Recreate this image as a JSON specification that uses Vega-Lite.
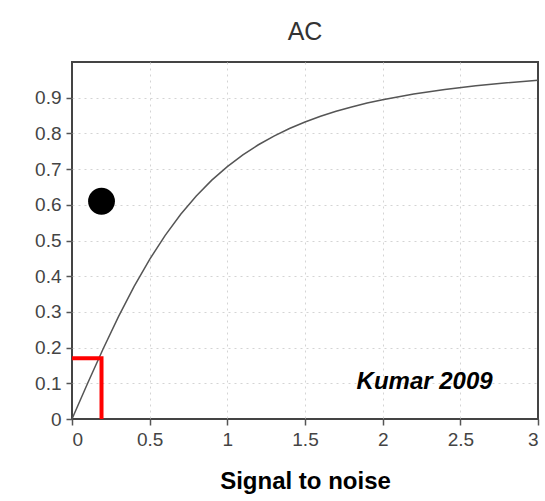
{
  "$schema": "https://vega.github.io/schema/vega-lite/v6.json",
  "autosize": {"type": "none"},
  "padding": {"left": 72, "top": 62, "right": 7, "bottom": 82},
  "width": 466,
  "height": 357,
  "background": "white",
  "title": {"text": "AC", "fontSize": 25, "font": "Liberation Sans", "fontWeight": "normal", "color": "#333", "baseline": "alphabetic", "offset": -3, "anchor": "middle"},
  "config": {
    "view": {"stroke": "#444", "strokeWidth": 2},
    "axis": {
      "domain": false, "grid": true, "gridColor": "#d4d4d4", "gridDash": [2, 4], "gridWidth": 1,
      "tickColor": "#555", "tickSize": 6, "tickWidth": 1.5,
      "labelFont": "Liberation Sans", "labelFontSize": 19, "labelColor": "#444", "labelPadding": 5, "labelOverlap": false
    }
  },
  "datasets": {
    "curve": [
      {"snr": 0, "ac": 0}, {"snr": 0.1, "ac": 0.0995}, {"snr": 0.2, "ac": 0.1961}, {"snr": 0.3, "ac": 0.2873},
      {"snr": 0.4, "ac": 0.3714}, {"snr": 0.5, "ac": 0.4472}, {"snr": 0.6, "ac": 0.5145}, {"snr": 0.7, "ac": 0.5735},
      {"snr": 0.8, "ac": 0.6247}, {"snr": 0.9, "ac": 0.669}, {"snr": 1.0, "ac": 0.7071}, {"snr": 1.1, "ac": 0.7399},
      {"snr": 1.2, "ac": 0.7682}, {"snr": 1.3, "ac": 0.7926}, {"snr": 1.4, "ac": 0.8137}, {"snr": 1.5, "ac": 0.8321},
      {"snr": 1.6, "ac": 0.848}, {"snr": 1.7, "ac": 0.8619}, {"snr": 1.8, "ac": 0.8742}, {"snr": 1.9, "ac": 0.8849},
      {"snr": 2.0, "ac": 0.8944}, {"snr": 2.2, "ac": 0.9104}, {"snr": 2.4, "ac": 0.9231}, {"snr": 2.6, "ac": 0.9333},
      {"snr": 2.8, "ac": 0.9417}, {"snr": 3.0, "ac": 0.9487}
    ],
    "bracket": [
      {"snr": 0, "ac": 0.17, "o": 0}, {"snr": 0.19, "ac": 0.17, "o": 1}, {"snr": 0.19, "ac": 0, "o": 2}
    ],
    "dot": [{"snr": 0.19, "ac": 0.61}],
    "label": [{"snr": 2.27, "ac": 0.103, "t": "Kumar 2009"}]
  },
  "encoding": {
    "x": {"field": "snr", "type": "quantitative", "scale": {"domain": [0, 3], "nice": false, "zero": false},
          "axis": {"values": [0, 0.5, 1, 1.5, 2, 2.5, 3], "format": ".2~f", "title": "Signal to noise",
                   "gridOpacity": {"condition": {"test": "datum.value <= 0 || datum.value >= 3", "value": 0}, "value": 1},
                   "titleFont": "Liberation Sans", "titleFontSize": 24, "titleFontWeight": "bold", "titleColor": "#000", "titlePadding": 20}},
    "y": {"field": "ac", "type": "quantitative", "scale": {"domain": [0, 1], "nice": false},
          "axis": {"values": [0, 0.1, 0.2, 0.3, 0.4, 0.5, 0.6, 0.7, 0.8, 0.9], "tickCount": 10, "format": ".1~f", "title": null,
                   "gridOpacity": {"condition": {"test": "datum.value <= 0", "value": 0}, "value": 1}}}
  },
  "layer": [
    {
      "data": {"name": "curve"},
      "mark": {"type": "line", "color": "#555", "strokeWidth": 1.5}
    },
    {
      "data": {"name": "bracket"},
      "mark": {"type": "line", "color": "#ff0000", "strokeWidth": 4, "strokeCap": "butt"},
      "encoding": {"order": {"field": "o"}}
    },
    {
      "data": {"name": "dot"},
      "mark": {"type": "point", "filled": true, "color": "#000", "opacity": 1, "size": 720, "shape": "circle"}
    },
    {
      "data": {"name": "label"},
      "mark": {"type": "text", "font": "Liberation Sans", "fontSize": 24, "fontWeight": "bold", "fontStyle": "italic", "color": "#000", "align": "center", "baseline": "middle"},
      "encoding": {"text": {"field": "t"}}
    }
  ]
}
